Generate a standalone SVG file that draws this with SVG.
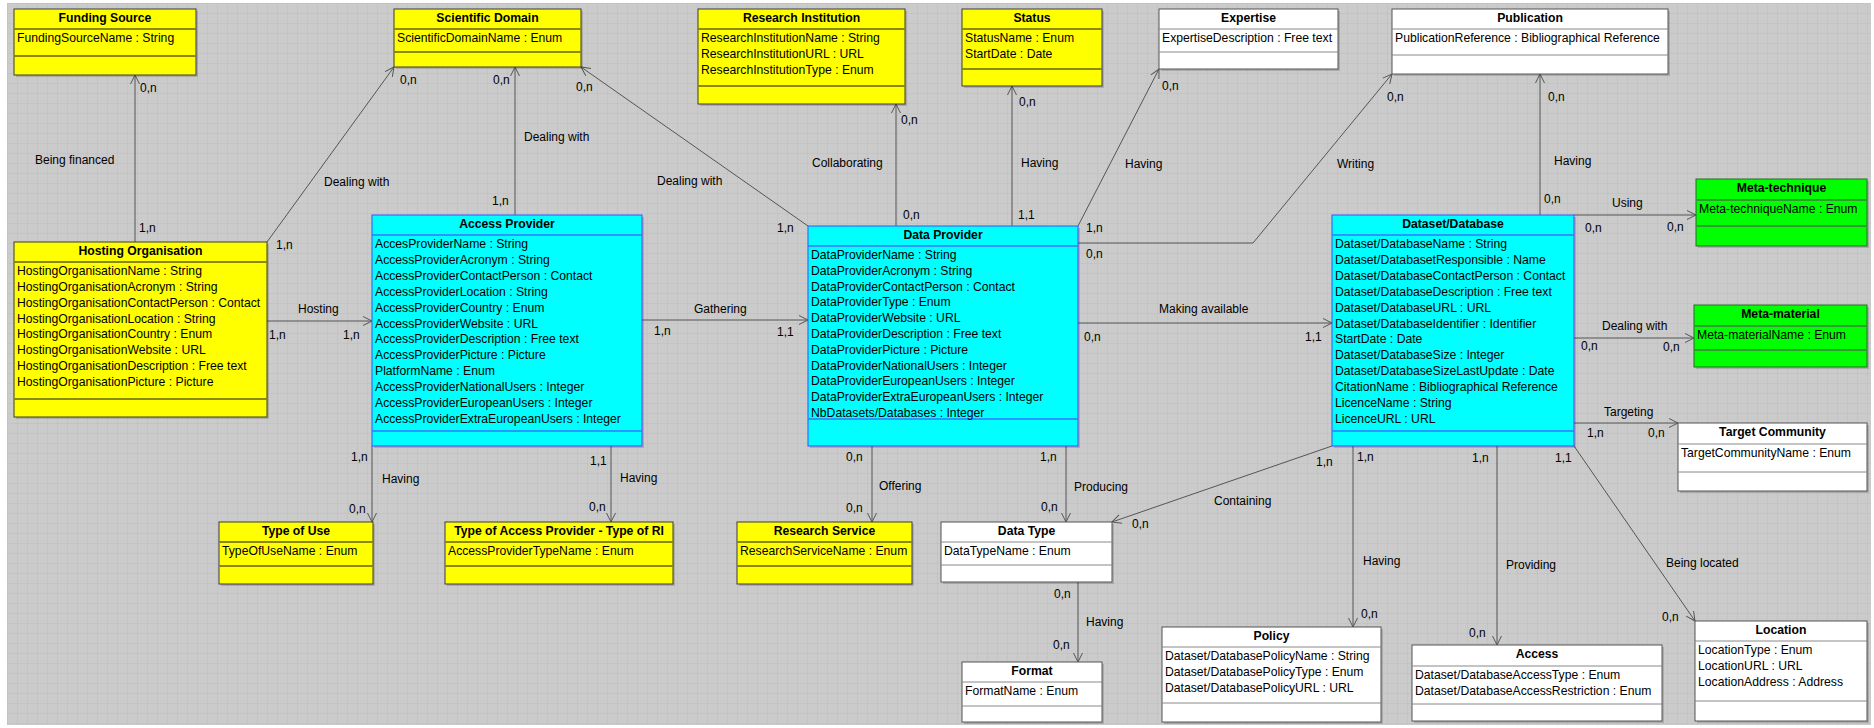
<svg xmlns="http://www.w3.org/2000/svg" width="1874" height="728" viewBox="0 0 1874 728">
<defs>
<pattern id="grid" x="7" y="3" width="10" height="10" patternUnits="userSpaceOnUse">
<rect width="10" height="10" fill="#cbcbcb"/>
<path d="M10 0 L0 0 L0 10" fill="none" stroke="#bdbdbd" stroke-width="1"/>
</pattern>
<marker id="arr" markerWidth="12" markerHeight="12" viewBox="-11 -6 12 12" refX="0" refY="0" orient="auto" markerUnits="userSpaceOnUse">
<path d="M-9,-4.5 L0,0 L-9,4.5" fill="none" stroke="#555" stroke-width="1"/>
</marker>
<style>
.by{fill:#ffff00;stroke:#3a3a3a;stroke-width:1}
.sy{stroke:#8a8a00;stroke-width:2}
.bc{fill:#00ffff;stroke:#3355ff;stroke-width:1}
.sc{stroke:#3377ff;stroke-width:1.5}
.bg{fill:#00ff00;stroke:#2a6a2a;stroke-width:1}
.sg{stroke:#2f9a2f;stroke-width:2}
.bw{fill:#ffffff;stroke:#555;stroke-width:1}
.sw{stroke:#888;stroke-width:1}
.sh{fill:#000;opacity:0.15}
.h{font-family:"Liberation Sans",Arial,sans-serif;font-size:12.2px;font-weight:bold;text-anchor:middle;fill:#000}
.a{font-family:"Liberation Sans",Arial,sans-serif;font-size:12.2px;fill:#000}
.l{font-family:"Liberation Sans",Arial,sans-serif;font-size:12px;fill:#000}
.c{stroke:#555;stroke-width:1;fill:none;marker-end:url(#arr)}
</style>
</defs>
<rect x="0" y="0" width="1874" height="728" fill="#ffffff"/>
<rect x="7" y="3" width="1864" height="722" fill="url(#grid)"/>

<g id="connectors">
<line class="c" x1="135" y1="242" x2="135" y2="75"/>
<line class="c" x1="267" y1="242" x2="394" y2="67"/>
<line class="c" x1="515" y1="215" x2="515" y2="67"/>
<line class="c" x1="808" y1="226" x2="581" y2="67"/>
<line class="c" x1="896" y1="226" x2="896" y2="104"/>
<line class="c" x1="1012" y1="226" x2="1012" y2="86"/>
<line class="c" x1="1078" y1="226" x2="1159" y2="69"/>
<polyline class="c" points="1078,243 1253,243 1392,74"/>
<line class="c" x1="1540" y1="215" x2="1540" y2="74"/>
<line class="c" x1="1574" y1="215" x2="1696" y2="215"/>
<line class="c" x1="1574" y1="338" x2="1694" y2="338"/>
<line class="c" x1="1574" y1="423" x2="1678" y2="423"/>
<line class="c" x1="1078" y1="323" x2="1332" y2="323"/>
<line class="c" x1="642" y1="320" x2="808" y2="320"/>
<line class="c" x1="267" y1="321" x2="372" y2="321"/>
<line class="c" x1="372" y1="446" x2="372" y2="522"/>
<line class="c" x1="611" y1="446" x2="611" y2="522"/>
<line class="c" x1="872" y1="446" x2="872" y2="522"/>
<line class="c" x1="1066" y1="446" x2="1066" y2="522"/>
<line class="c" x1="1078" y1="582" x2="1078" y2="662"/>
<line class="c" x1="1332" y1="446" x2="1112" y2="522"/>
<line class="c" x1="1353" y1="446" x2="1353" y2="627"/>
<line class="c" x1="1497" y1="446" x2="1497" y2="645"/>
<line class="c" x1="1574" y1="446" x2="1695" y2="621"/>
<g id="connector-labels">
<text class="l" x="140" y="92">0,n</text><text class="l" x="139" y="232">1,n</text><text class="l" x="35" y="164">Being financed</text>
<text class="l" x="400" y="84">0,n</text><text class="l" x="276" y="249">1,n</text><text class="l" x="324" y="186">Dealing with</text>
<text class="l" x="493" y="84">0,n</text><text class="l" x="492" y="205">1,n</text><text class="l" x="524" y="141">Dealing with</text>
<text class="l" x="576" y="91">0,n</text><text class="l" x="777" y="232">1,n</text><text class="l" x="657" y="185">Dealing with</text>
<text class="l" x="901" y="124">0,n</text><text class="l" x="903" y="219">0,n</text><text class="l" x="812" y="167">Collaborating</text>
<text class="l" x="1019" y="106">0,n</text><text class="l" x="1018" y="219">1,1</text><text class="l" x="1021" y="167">Having</text>
<text class="l" x="1162" y="90">0,n</text><text class="l" x="1086" y="232">1,n</text><text class="l" x="1125" y="168">Having</text>
<text class="l" x="1086" y="258">0,n</text><text class="l" x="1387" y="101">0,n</text><text class="l" x="1337" y="168">Writing</text>
<text class="l" x="1548" y="101">0,n</text><text class="l" x="1544" y="203">0,n</text><text class="l" x="1554" y="165">Having</text>
<text class="l" x="1612" y="207">Using</text><text class="l" x="1585" y="232">0,n</text><text class="l" x="1667" y="231">0,n</text>
<text class="l" x="1602" y="330">Dealing with</text><text class="l" x="1581" y="350">0,n</text><text class="l" x="1663" y="351">0,n</text>
<text class="l" x="1604" y="416">Targeting</text><text class="l" x="1587" y="437">1,n</text><text class="l" x="1648" y="437">0,n</text>
<text class="l" x="1159" y="313">Making available</text><text class="l" x="1084" y="341">0,n</text><text class="l" x="1305" y="341">1,1</text>
<text class="l" x="694" y="313">Gathering</text><text class="l" x="777" y="336">1,1</text><text class="l" x="654" y="335">1,n</text>
<text class="l" x="298" y="313">Hosting</text><text class="l" x="269" y="339">1,n</text><text class="l" x="343" y="339">1,n</text>
<text class="l" x="351" y="461">1,n</text><text class="l" x="349" y="513">0,n</text><text class="l" x="382" y="483">Having</text>
<text class="l" x="590" y="465">1,1</text><text class="l" x="589" y="511">0,n</text><text class="l" x="620" y="482">Having</text>
<text class="l" x="846" y="461">0,n</text><text class="l" x="846" y="512">0,n</text><text class="l" x="879" y="490">Offering</text>
<text class="l" x="1040" y="461">1,n</text><text class="l" x="1041" y="511">0,n</text><text class="l" x="1074" y="491">Producing</text>
<text class="l" x="1054" y="598">0,n</text><text class="l" x="1053" y="649">0,n</text><text class="l" x="1086" y="626">Having</text>
<text class="l" x="1316" y="466">1,n</text><text class="l" x="1132" y="528">0,n</text><text class="l" x="1214" y="505">Containing</text>
<text class="l" x="1357" y="461">1,n</text><text class="l" x="1361" y="618">0,n</text><text class="l" x="1363" y="565">Having</text>
<text class="l" x="1472" y="462">1,n</text><text class="l" x="1469" y="637">0,n</text><text class="l" x="1506" y="569">Providing</text>
<text class="l" x="1555" y="462">1,1</text><text class="l" x="1662" y="621">0,n</text><text class="l" x="1666" y="567">Being located</text>
</g>
</g>

<g id="funding-source">
<rect class="sh" x="16" y="11" width="182" height="66"/>
<rect class="by" x="14" y="9" width="182" height="66"/>
<line class="sy" x1="14" y1="29" x2="196" y2="29"/><line class="sy" x1="14" y1="56" x2="196" y2="56"/>
<text class="h" x="105" y="22">Funding Source</text>
<text class="a" x="17" y="42">FundingSourceName : String</text>
</g>

<g id="scientific-domain">
<rect class="sh" x="396" y="11" width="187" height="58"/>
<rect class="by" x="394" y="9" width="187" height="58"/>
<line class="sy" x1="394" y1="29" x2="581" y2="29"/><line class="sy" x1="394" y1="52" x2="581" y2="52"/>
<text class="h" x="487.5" y="22">Scientific Domain</text>
<text class="a" x="397" y="42">ScientificDomainName : Enum</text>
</g>

<g id="research-institution">
<rect class="sh" x="700" y="11" width="207" height="95"/>
<rect class="by" x="698" y="9" width="207" height="95"/>
<line class="sy" x1="698" y1="29" x2="905" y2="29"/><line class="sy" x1="698" y1="86" x2="905" y2="86"/>
<text class="h" x="801.5" y="22">Research Institution</text>
<text class="a" x="701" y="42">ResearchInstitutionName : String</text>
<text class="a" x="701" y="58">ResearchInstitutionURL : URL</text>
<text class="a" x="701" y="74">ResearchInstitutionType : Enum</text>
</g>

<g id="status">
<rect class="sh" x="964" y="11" width="140" height="77"/>
<rect class="by" x="962" y="9" width="140" height="77"/>
<line class="sy" x1="962" y1="29" x2="1102" y2="29"/><line class="sy" x1="962" y1="69" x2="1102" y2="69"/>
<text class="h" x="1032" y="22">Status</text>
<text class="a" x="965" y="42">StatusName : Enum</text>
<text class="a" x="965" y="58">StartDate : Date</text>
</g>

<g id="expertise">
<rect class="sh" x="1161" y="11" width="179" height="60"/>
<rect class="bw" x="1159" y="9" width="179" height="60"/>
<line class="sw" x1="1159" y1="29" x2="1338" y2="29"/><line class="sw" x1="1159" y1="52" x2="1338" y2="52"/>
<text class="h" x="1248.5" y="22">Expertise</text>
<text class="a" x="1162" y="42">ExpertiseDescription : Free text</text>
</g>

<g id="publication">
<rect class="sh" x="1394" y="11" width="276" height="65"/>
<rect class="bw" x="1392" y="9" width="276" height="65"/>
<line class="sw" x1="1392" y1="29" x2="1668" y2="29"/><line class="sw" x1="1392" y1="55" x2="1668" y2="55"/>
<text class="h" x="1530" y="22">Publication</text>
<text class="a" x="1395" y="42">PublicationReference : Bibliographical Reference</text>
</g>

<g id="meta-technique">
<rect class="sh" x="1698" y="181" width="171" height="67"/>
<rect class="bg" x="1696" y="179" width="171" height="67"/>
<line class="sg" x1="1696" y1="200" x2="1867" y2="200"/><line class="sg" x1="1696" y1="226" x2="1867" y2="226"/>
<text class="h" x="1781.5" y="192">Meta-technique</text>
<text class="a" x="1699" y="213">Meta-techniqueName : Enum</text>
</g>

<g id="meta-material">
<rect class="sh" x="1696" y="307" width="173" height="62"/>
<rect class="bg" x="1694" y="305" width="173" height="62"/>
<line class="sg" x1="1694" y1="326" x2="1867" y2="326"/><line class="sg" x1="1694" y1="350" x2="1867" y2="350"/>
<text class="h" x="1780.5" y="318">Meta-material</text>
<text class="a" x="1697" y="339">Meta-materialName : Enum</text>
</g>

<g id="target-community">
<rect class="sh" x="1680" y="425" width="189" height="68"/>
<rect class="bw" x="1678" y="423" width="189" height="68"/>
<line class="sw" x1="1678" y1="444" x2="1867" y2="444"/><line class="sw" x1="1678" y1="472" x2="1867" y2="472"/>
<text class="h" x="1772.5" y="436">Target Community</text>
<text class="a" x="1681" y="457">TargetCommunityName : Enum</text>
</g>

<g id="location">
<rect class="sh" x="1697" y="623" width="172" height="100"/>
<rect class="bw" x="1695" y="621" width="172" height="100"/>
<line class="sw" x1="1695" y1="641" x2="1867" y2="641"/><line class="sw" x1="1695" y1="701" x2="1867" y2="701"/>
<text class="h" x="1781" y="634">Location</text>
<text class="a" x="1698" y="654">LocationType : Enum</text>
<text class="a" x="1698" y="670">LocationURL : URL</text>
<text class="a" x="1698" y="686">LocationAddress : Address</text>
</g>

<g id="access">
<rect class="sh" x="1414" y="647" width="250" height="76"/>
<rect class="bw" x="1412" y="645" width="250" height="76"/>
<line class="sw" x1="1412" y1="666" x2="1662" y2="666"/><line class="sw" x1="1412" y1="704" x2="1662" y2="704"/>
<text class="h" x="1537" y="658">Access</text>
<text class="a" x="1415" y="679">Dataset/DatabaseAccessType : Enum</text>
<text class="a" x="1415" y="695">Dataset/DatabaseAccessRestriction : Enum</text>
</g>

<g id="policy">
<rect class="sh" x="1164" y="629" width="219" height="95"/>
<rect class="bw" x="1162" y="627" width="219" height="95"/>
<line class="sw" x1="1162" y1="647" x2="1381" y2="647"/><line class="sw" x1="1162" y1="703" x2="1381" y2="703"/>
<text class="h" x="1271.5" y="640">Policy</text>
<text class="a" x="1165" y="660">Dataset/DatabasePolicyName : String</text>
<text class="a" x="1165" y="676">Dataset/DatabasePolicyType : Enum</text>
<text class="a" x="1165" y="692">Dataset/DatabasePolicyURL : URL</text>
</g>

<g id="format">
<rect class="sh" x="964" y="664" width="140" height="60"/>
<rect class="bw" x="962" y="662" width="140" height="60"/>
<line class="sw" x1="962" y1="682" x2="1102" y2="682"/><line class="sw" x1="962" y1="706" x2="1102" y2="706"/>
<text class="h" x="1032" y="675">Format</text>
<text class="a" x="965" y="695">FormatName : Enum</text>
</g>

<g id="data-type">
<rect class="sh" x="943" y="524" width="171" height="60"/>
<rect class="bw" x="941" y="522" width="171" height="60"/>
<line class="sw" x1="941" y1="542" x2="1112" y2="542"/><line class="sw" x1="941" y1="565" x2="1112" y2="565"/>
<text class="h" x="1026.5" y="535">Data Type</text>
<text class="a" x="944" y="555">DataTypeName : Enum</text>
</g>

<g id="research-service">
<rect class="sh" x="739" y="524" width="175" height="62"/>
<rect class="by" x="737" y="522" width="175" height="62"/>
<line class="sy" x1="737" y1="542" x2="912" y2="542"/><line class="sy" x1="737" y1="566" x2="912" y2="566"/>
<text class="h" x="824.5" y="535">Research Service</text>
<text class="a" x="740" y="555">ResearchServiceName : Enum</text>
</g>

<g id="type-of-access-provider">
<rect class="sh" x="447" y="524" width="228" height="62"/>
<rect class="by" x="445" y="522" width="228" height="62"/>
<line class="sy" x1="445" y1="542" x2="673" y2="542"/><line class="sy" x1="445" y1="566" x2="673" y2="566"/>
<text class="h" x="559" y="535">Type of Access Provider - Type of RI</text>
<text class="a" x="448" y="555">AccessProviderTypeName : Enum</text>
</g>

<g id="type-of-use">
<rect class="sh" x="221" y="524" width="154" height="62"/>
<rect class="by" x="219" y="522" width="154" height="62"/>
<line class="sy" x1="219" y1="542" x2="373" y2="542"/><line class="sy" x1="219" y1="566" x2="373" y2="566"/>
<text class="h" x="296" y="535">Type of Use</text>
<text class="a" x="222" y="555">TypeOfUseName : Enum</text>
</g>

<g id="hosting-organisation">
<rect class="sh" x="16" y="244" width="253" height="175"/>
<rect class="by" x="14" y="242" width="253" height="175"/>
<line class="sy" x1="14" y1="262" x2="267" y2="262"/><line class="sy" x1="14" y1="399" x2="267" y2="399"/>
<text class="h" x="140.5" y="255">Hosting Organisation</text>
<text class="a" x="17" y="275">HostingOrganisationName : String</text>
<text class="a" x="17" y="290.9">HostingOrganisationAcronym : String</text>
<text class="a" x="17" y="306.7">HostingOrganisationContactPerson : Contact</text>
<text class="a" x="17" y="322.6">HostingOrganisationLocation : String</text>
<text class="a" x="17" y="338.4">HostingOrganisationCountry : Enum</text>
<text class="a" x="17" y="354.3">HostingOrganisationWebsite : URL</text>
<text class="a" x="17" y="370.1">HostingOrganisationDescription : Free text</text>
<text class="a" x="17" y="386">HostingOrganisationPicture : Picture</text>
</g>

<g id="access-provider">
<rect class="sh" x="374" y="217" width="270" height="231"/>
<rect class="bc" x="372" y="215" width="270" height="231"/>
<line class="sc" x1="372" y1="235" x2="642" y2="235"/><line class="sc" x1="372" y1="431" x2="642" y2="431"/>
<text class="h" x="507" y="228">Access Provider</text>
<text class="a" x="375" y="248">AccesProviderName : String</text>
<text class="a" x="375" y="263.9">AccessProviderAcronym : String</text>
<text class="a" x="375" y="279.8">AccessProviderContactPerson : Contact</text>
<text class="a" x="375" y="295.7">AccessProviderLocation : String</text>
<text class="a" x="375" y="311.6">AccessProviderCountry : Enum</text>
<text class="a" x="375" y="327.5">AccessProviderWebsite : URL</text>
<text class="a" x="375" y="343.4">AccessProviderDescription : Free text</text>
<text class="a" x="375" y="359.3">AccessProviderPicture : Picture</text>
<text class="a" x="375" y="375.2">PlatformName : Enum</text>
<text class="a" x="375" y="391.1">AccessProviderNationalUsers : Integer</text>
<text class="a" x="375" y="407">AccessProviderEuropeanUsers : Integer</text>
<text class="a" x="375" y="422.9">AccessProviderExtraEuropeanUsers : Integer</text>
</g>

<g id="data-provider">
<rect class="sh" x="810" y="228" width="270" height="220"/>
<rect class="bc" x="808" y="226" width="270" height="220"/>
<line class="sc" x1="808" y1="246" x2="1078" y2="246"/><line class="sc" x1="808" y1="419" x2="1078" y2="419"/>
<text class="h" x="943" y="239">Data Provider</text>
<text class="a" x="811" y="259">DataProviderName : String</text>
<text class="a" x="811" y="274.8">DataProviderAcronym : String</text>
<text class="a" x="811" y="290.6">DataProviderContactPerson : Contact</text>
<text class="a" x="811" y="306.4">DataProviderType : Enum</text>
<text class="a" x="811" y="322.2">DataProviderWebsite : URL</text>
<text class="a" x="811" y="338">DataProviderDescription : Free text</text>
<text class="a" x="811" y="353.8">DataProviderPicture : Picture</text>
<text class="a" x="811" y="369.6">DataProviderNationalUsers : Integer</text>
<text class="a" x="811" y="385.4">DataProviderEuropeanUsers : Integer</text>
<text class="a" x="811" y="401.2">DataProviderExtraEuropeanUsers : Integer</text>
<text class="a" x="811" y="417">NbDatasets/Databases : Integer</text>
</g>

<g id="dataset-database">
<rect class="sh" x="1334" y="217" width="242" height="231"/>
<rect class="bc" x="1332" y="215" width="242" height="231"/>
<line class="sc" x1="1332" y1="235" x2="1574" y2="235"/><line class="sc" x1="1332" y1="431" x2="1574" y2="431"/>
<text class="h" x="1453" y="228">Dataset/Database</text>
<text class="a" x="1335" y="248">Dataset/DatabaseName : String</text>
<text class="a" x="1335" y="263.9">Dataset/DatabasetResponsible : Name</text>
<text class="a" x="1335" y="279.8">Dataset/DatabaseContactPerson : Contact</text>
<text class="a" x="1335" y="295.7">Dataset/DatabaseDescription : Free text</text>
<text class="a" x="1335" y="311.6">Dataset/DatabaseURL : URL</text>
<text class="a" x="1335" y="327.5">Dataset/DatabaseIdentifier : Identifier</text>
<text class="a" x="1335" y="343.4">StartDate : Date</text>
<text class="a" x="1335" y="359.3">Dataset/DatabaseSize : Integer</text>
<text class="a" x="1335" y="375.2">Dataset/DatabaseSizeLastUpdate : Date</text>
<text class="a" x="1335" y="391.1">CitationName : Bibliographical Reference</text>
<text class="a" x="1335" y="407">LicenceName : String</text>
<text class="a" x="1335" y="422.9">LicenceURL : URL</text>
</g>
</svg>
